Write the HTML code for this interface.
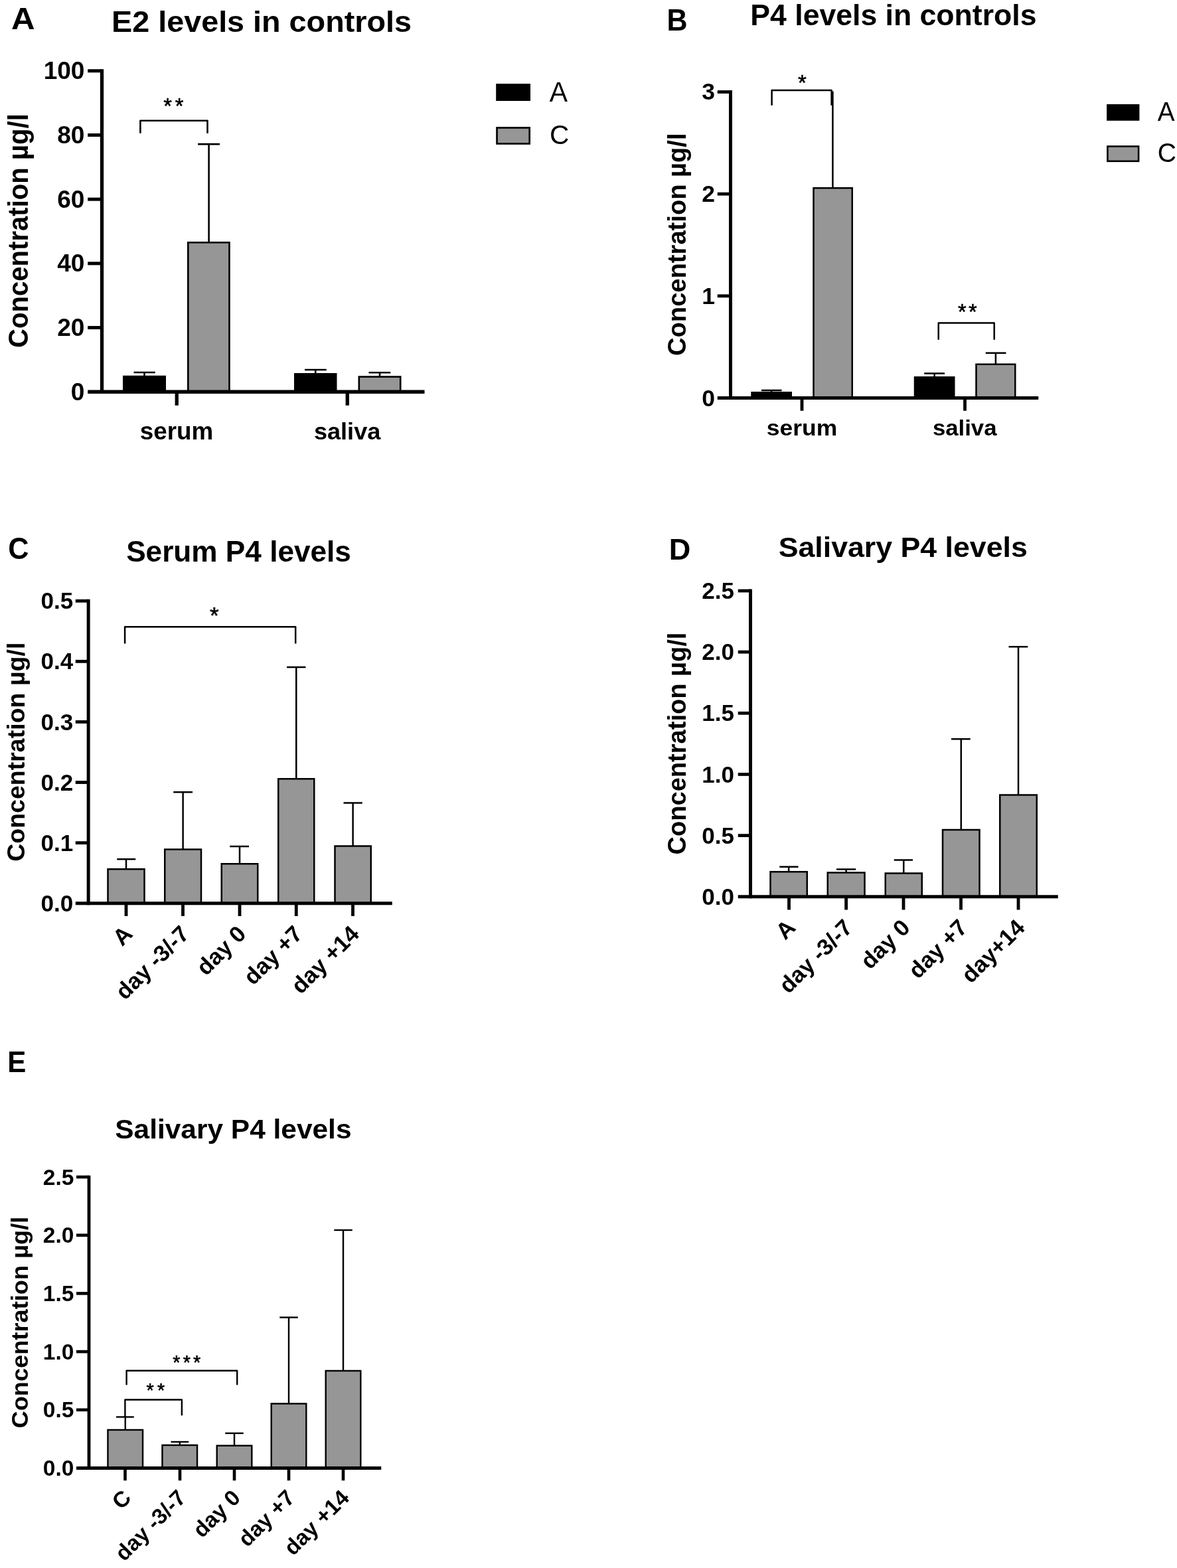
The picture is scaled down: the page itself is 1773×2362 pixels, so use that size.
<!DOCTYPE html>
<html lang="en">
<head>
<meta charset="utf-8">
<title>Hormone levels in controls and patients</title>
<style>
html,body{margin:0;padding:0;background:#fff;}
body{width:1773px;height:2362px;overflow:hidden;}
svg{display:block;}
svg text{font-family:"Liberation Sans",Arial,Helvetica,sans-serif;fill:#000;white-space:pre;}
</style>
</head>
<body>
<svg width="1773" height="2362" viewBox="0 0 1773 2362">
<rect x="0" y="0" width="1773" height="2362" fill="#fff"/>
<text transform="translate(16.92 43.85) scale(1.0721 1.0000)" font-size="45.94" font-weight="bold">A</text>
<text transform="translate(168.01 47.71) scale(1.0637 1.0000)" font-size="43.95" font-weight="bold">E2 levels in controls</text>
<g id="panel-A">
<line x1="217.5" y1="561" x2="217.5" y2="566.75" stroke="#000" stroke-width="2.6"/>
<line x1="201.5" y1="561" x2="233.75" y2="561" stroke="#000" stroke-width="2.6"/>
<rect x="185" y="565.75" width="65" height="24.5" fill="#000"/>
<line x1="314.6" y1="217.15" x2="314.6" y2="365" stroke="#000" stroke-width="2.6"/>
<line x1="298.1" y1="217.15" x2="331" y2="217.15" stroke="#000" stroke-width="2.6"/>
<rect x="283.3" y="365.3" width="62.15" height="224.65" fill="#969696" stroke="#000" stroke-width="2.6"/>
<line x1="475.25" y1="557" x2="475.25" y2="563" stroke="#000" stroke-width="2.6"/>
<line x1="459" y1="557" x2="491.75" y2="557" stroke="#000" stroke-width="2.6"/>
<rect x="443" y="562" width="64.5" height="28.25" fill="#000"/>
<line x1="572" y1="561.25" x2="572" y2="567.25" stroke="#000" stroke-width="2.6"/>
<line x1="555.5" y1="561.25" x2="588.25" y2="561.25" stroke="#000" stroke-width="2.6"/>
<rect x="540.8" y="567.55" width="62.4" height="22.4" fill="#969696" stroke="#000" stroke-width="2.6"/>
<line x1="153.5" y1="104.25" x2="153.5" y2="592.9" stroke="#000" stroke-width="5.3"/>
<line x1="132.2" y1="590.25" x2="639.5" y2="590.25" stroke="#000" stroke-width="5.3"/>
<text transform="translate(127.48 602.75) scale(1.0300 1)" font-size="36" font-weight="bold" text-anchor="end">0</text>
<line x1="132.2" y1="493.55" x2="153.5" y2="493.55" stroke="#000" stroke-width="5"/>
<text transform="translate(127.48 506.05) scale(1.0300 1)" font-size="36" font-weight="bold" text-anchor="end">20</text>
<line x1="132.2" y1="396.85" x2="153.5" y2="396.85" stroke="#000" stroke-width="5"/>
<text transform="translate(127.48 409.35) scale(1.0300 1)" font-size="36" font-weight="bold" text-anchor="end">40</text>
<line x1="132.2" y1="300.15" x2="153.5" y2="300.15" stroke="#000" stroke-width="5"/>
<text transform="translate(127.48 312.65) scale(1.0300 1)" font-size="36" font-weight="bold" text-anchor="end">60</text>
<line x1="132.2" y1="203.45" x2="153.5" y2="203.45" stroke="#000" stroke-width="5"/>
<text transform="translate(127.48 215.95) scale(1.0300 1)" font-size="36" font-weight="bold" text-anchor="end">80</text>
<line x1="132.2" y1="106.75" x2="153.5" y2="106.75" stroke="#000" stroke-width="5"/>
<text transform="translate(127.48 119.25) scale(1.0300 1)" font-size="36" font-weight="bold" text-anchor="end">100</text>
<line x1="266.25" y1="590.25" x2="266.25" y2="610.75" stroke="#000" stroke-width="5.3"/>
<line x1="523.25" y1="590.25" x2="523.25" y2="610.75" stroke="#000" stroke-width="5.3"/>
<path d="M211.4 200.8V181.7H312.5V200.8" fill="none" stroke="#000" stroke-width="2.6" stroke-linejoin="round"/>
<text x="246.16" y="171.22" font-size="32.57" font-weight="normal" stroke="#000" stroke-width="0.6" stroke-linejoin="round" letter-spacing="4.87">**</text>
</g>
<text transform="translate(210.76 661.89) scale(1.0180 1.0000)" font-size="36.18" font-weight="bold">serum</text>
<text transform="translate(472.88 661.79) scale(1.0179 1.0000)" font-size="35.51" font-weight="bold">saliva</text>
<text transform="translate(41.71 524.05) rotate(-90) scale(0.9645 1)" font-size="41.6" font-weight="bold">Concentration µg/l</text>
<rect x="747.2" y="126.1" width="51.8" height="25.9" fill="#000"/>
<rect x="748.55" y="192.45" width="49.1" height="24" fill="#969696" stroke="#000" stroke-width="2.7"/>
<text transform="translate(827.85 152.75) scale(0.9798 1.0000)" font-size="41.75" font-weight="normal">A</text>
<text transform="translate(827.92 217.45) scale(1.0123 1.0000)" font-size="40.14" font-weight="normal">C</text>
<text transform="translate(1004.45 45.5) scale(0.9426 1.0000)" font-size="45.65" font-weight="bold">B</text>
<text transform="translate(1130.35 37.91) scale(1.0084 1.0000)" font-size="44.22" font-weight="bold">P4 levels in controls</text>
<g id="panel-B">
<line x1="1162.12" y1="588" x2="1162.12" y2="591" stroke="#000" stroke-width="2.5"/>
<line x1="1147" y1="588" x2="1177.5" y2="588" stroke="#000" stroke-width="2.5"/>
<rect x="1131.25" y="590" width="61.75" height="9.5" fill="#000"/>
<line x1="1254.4" y1="137.5" x2="1254.4" y2="283" stroke="#000" stroke-width="2.5"/>
<rect x="1225.5" y="283.25" width="58.25" height="316" fill="#969696" stroke="#000" stroke-width="2.5"/>
<line x1="1407.62" y1="562.5" x2="1407.62" y2="568" stroke="#000" stroke-width="2.5"/>
<line x1="1392.25" y1="562.5" x2="1423" y2="562.5" stroke="#000" stroke-width="2.5"/>
<rect x="1376.75" y="567" width="61.75" height="32.5" fill="#000"/>
<line x1="1499.88" y1="531.75" x2="1499.88" y2="548.5" stroke="#000" stroke-width="2.5"/>
<line x1="1484.75" y1="531.75" x2="1515.5" y2="531.75" stroke="#000" stroke-width="2.5"/>
<rect x="1470.5" y="548.75" width="58.75" height="50.5" fill="#969696" stroke="#000" stroke-width="2.5"/>
<line x1="1100.5" y1="136.09" x2="1100.5" y2="602" stroke="#000" stroke-width="5"/>
<line x1="1080.75" y1="599.5" x2="1564.25" y2="599.5" stroke="#000" stroke-width="5"/>
<text transform="translate(1076.92 611.5) scale(1.0300 1)" font-size="34.5" font-weight="bold" text-anchor="end">0</text>
<line x1="1080.75" y1="445.83" x2="1100.5" y2="445.83" stroke="#000" stroke-width="4.8"/>
<text transform="translate(1076.92 457.83) scale(1.0300 1)" font-size="34.5" font-weight="bold" text-anchor="end">1</text>
<line x1="1080.75" y1="292.16" x2="1100.5" y2="292.16" stroke="#000" stroke-width="4.8"/>
<text transform="translate(1076.92 304.16) scale(1.0300 1)" font-size="34.5" font-weight="bold" text-anchor="end">2</text>
<line x1="1080.75" y1="138.49" x2="1100.5" y2="138.49" stroke="#000" stroke-width="4.8"/>
<text transform="translate(1076.92 150.49) scale(1.0300 1)" font-size="34.5" font-weight="bold" text-anchor="end">3</text>
<line x1="1208" y1="599.5" x2="1208" y2="618.75" stroke="#000" stroke-width="4.8"/>
<line x1="1453.5" y1="599.5" x2="1453.5" y2="618.75" stroke="#000" stroke-width="4.8"/>
<path d="M1162.6 158.8V136.1H1252.6V158.8" fill="none" stroke="#000" stroke-width="2.5" stroke-linejoin="round"/>
<text x="1201.92" y="136.32" font-size="32.86" font-weight="normal" stroke="#000" stroke-width="0.6" stroke-linejoin="round">*</text>
<path d="M1413.7 511.7V486.5H1497.7V511.7" fill="none" stroke="#000" stroke-width="2.5" stroke-linejoin="round"/>
<text x="1443.06" y="481.22" font-size="32.57" font-weight="normal" stroke="#000" stroke-width="0.6" stroke-linejoin="round" letter-spacing="3.27">**</text>
</g>
<text transform="translate(1154.86 655.81) scale(1.0536 1.0000)" font-size="33.64" font-weight="bold">serum</text>
<text transform="translate(1404.88 655.81) scale(1.0226 1.0000)" font-size="34.01" font-weight="bold">saliva</text>
<text transform="translate(1033.36 535.98) rotate(-90) scale(0.9773 1)" font-size="39.04" font-weight="bold">Concentration µg/l</text>
<rect x="1667.1" y="157" width="49.3" height="24.8" fill="#000"/>
<rect x="1668.4" y="220.5" width="46.7" height="22.3" fill="#969696" stroke="#000" stroke-width="2.6"/>
<text transform="translate(1743.66 182.15) scale(0.9352 1.0000)" font-size="41.31" font-weight="normal">A</text>
<text transform="translate(1743.8 244.05) scale(0.9762 1.0000)" font-size="40" font-weight="normal">C</text>
<text transform="translate(12.32 841.89) scale(0.9381 1.0000)" font-size="46.06" font-weight="bold">C</text>
<text transform="translate(190.17 845.8) scale(0.9780 1.0000)" font-size="45.17" font-weight="bold">Serum P4 levels</text>
<g id="panel-C">
<line x1="190" y1="1294.25" x2="190" y2="1309" stroke="#000" stroke-width="2.5"/>
<line x1="176.25" y1="1294.25" x2="204.25" y2="1294.25" stroke="#000" stroke-width="2.5"/>
<rect x="162.5" y="1309.25" width="55" height="51.25" fill="#969696" stroke="#000" stroke-width="2.5"/>
<line x1="275.62" y1="1193.25" x2="275.62" y2="1279.25" stroke="#000" stroke-width="2.5"/>
<line x1="261.25" y1="1193.25" x2="290" y2="1193.25" stroke="#000" stroke-width="2.5"/>
<rect x="248.25" y="1279.5" width="54.75" height="81" fill="#969696" stroke="#000" stroke-width="2.5"/>
<line x1="361" y1="1275" x2="361" y2="1301" stroke="#000" stroke-width="2.5"/>
<line x1="346.25" y1="1275" x2="375" y2="1275" stroke="#000" stroke-width="2.5"/>
<rect x="333.75" y="1301.25" width="54.5" height="59.25" fill="#969696" stroke="#000" stroke-width="2.5"/>
<line x1="446.25" y1="1005" x2="446.25" y2="1173" stroke="#000" stroke-width="2.5"/>
<line x1="432" y1="1005" x2="460.5" y2="1005" stroke="#000" stroke-width="2.5"/>
<rect x="419.25" y="1173.25" width="54" height="187.25" fill="#969696" stroke="#000" stroke-width="2.5"/>
<line x1="531.62" y1="1209.5" x2="531.62" y2="1274.25" stroke="#000" stroke-width="2.5"/>
<line x1="517.5" y1="1209.5" x2="545.75" y2="1209.5" stroke="#000" stroke-width="2.5"/>
<rect x="504.5" y="1274.5" width="54.25" height="86" fill="#969696" stroke="#000" stroke-width="2.5"/>
<line x1="133.15" y1="902.85" x2="133.15" y2="1363.25" stroke="#000" stroke-width="5"/>
<line x1="113.75" y1="1360.75" x2="590.75" y2="1360.75" stroke="#000" stroke-width="5"/>
<text transform="translate(110.15 1372.85)" font-size="35" font-weight="bold" text-anchor="end">0.0</text>
<line x1="113.75" y1="1269.65" x2="133.15" y2="1269.65" stroke="#000" stroke-width="4.8"/>
<text transform="translate(110.15 1281.75)" font-size="35" font-weight="bold" text-anchor="end">0.1</text>
<line x1="113.75" y1="1178.55" x2="133.15" y2="1178.55" stroke="#000" stroke-width="4.8"/>
<text transform="translate(110.15 1190.65)" font-size="35" font-weight="bold" text-anchor="end">0.2</text>
<line x1="113.75" y1="1087.45" x2="133.15" y2="1087.45" stroke="#000" stroke-width="4.8"/>
<text transform="translate(110.15 1099.55)" font-size="35" font-weight="bold" text-anchor="end">0.3</text>
<line x1="113.75" y1="996.35" x2="133.15" y2="996.35" stroke="#000" stroke-width="4.8"/>
<text transform="translate(110.15 1008.45)" font-size="35" font-weight="bold" text-anchor="end">0.4</text>
<line x1="113.75" y1="905.25" x2="133.15" y2="905.25" stroke="#000" stroke-width="4.8"/>
<text transform="translate(110.15 917.35)" font-size="35" font-weight="bold" text-anchor="end">0.5</text>
<line x1="190" y1="1360.75" x2="190" y2="1380" stroke="#000" stroke-width="4.8"/>
<text transform="translate(201.5 1409) rotate(-45)" font-size="34.4" font-weight="bold" text-anchor="end">A</text>
<line x1="275.5" y1="1360.75" x2="275.5" y2="1380" stroke="#000" stroke-width="4.8"/>
<text transform="translate(287 1409) rotate(-45)" font-size="34.4" font-weight="bold" text-anchor="end">day -3/-7</text>
<line x1="361" y1="1360.75" x2="361" y2="1380" stroke="#000" stroke-width="4.8"/>
<text transform="translate(372.5 1409) rotate(-45)" font-size="34.4" font-weight="bold" text-anchor="end">day 0</text>
<line x1="446.25" y1="1360.75" x2="446.25" y2="1380" stroke="#000" stroke-width="4.8"/>
<text transform="translate(457.75 1409) rotate(-45)" font-size="34.4" font-weight="bold" text-anchor="end">day +7</text>
<line x1="531.5" y1="1360.75" x2="531.5" y2="1380" stroke="#000" stroke-width="4.8"/>
<text transform="translate(543 1409) rotate(-45)" font-size="34.4" font-weight="bold" text-anchor="end">day +14</text>
<path d="M188.1 969.5V944.3H445.2V969.5" fill="none" stroke="#000" stroke-width="2.5" stroke-linejoin="round"/>
<text x="316.09" y="939.3" font-size="35.14" font-weight="normal" stroke="#000" stroke-width="0.6" stroke-linejoin="round">*</text>
</g>
<text transform="translate(37.11 1297.85) rotate(-90) scale(1.0230 1)" font-size="36.7" font-weight="bold">Concentration µg/l</text>
<text transform="translate(1007.82 842.75) scale(1.0208 1.0000)" font-size="44.2" font-weight="bold">D</text>
<text transform="translate(1172.66 838.77) scale(1.0445 1.0000)" font-size="42.78" font-weight="bold">Salivary P4 levels</text>
<g id="panel-D">
<line x1="1188.12" y1="1305.75" x2="1188.12" y2="1313" stroke="#000" stroke-width="2.5"/>
<line x1="1174.25" y1="1305.75" x2="1202.5" y2="1305.75" stroke="#000" stroke-width="2.5"/>
<rect x="1160.5" y="1313.25" width="55.25" height="37.25" fill="#969696" stroke="#000" stroke-width="2.5"/>
<line x1="1274.62" y1="1309.5" x2="1274.62" y2="1314.25" stroke="#000" stroke-width="2.5"/>
<line x1="1260" y1="1309.5" x2="1289.25" y2="1309.5" stroke="#000" stroke-width="2.5"/>
<rect x="1246.75" y="1314.5" width="55.75" height="36" fill="#969696" stroke="#000" stroke-width="2.5"/>
<line x1="1361.25" y1="1295.5" x2="1361.25" y2="1315.25" stroke="#000" stroke-width="2.5"/>
<line x1="1346.75" y1="1295.5" x2="1375" y2="1295.5" stroke="#000" stroke-width="2.5"/>
<rect x="1333.75" y="1315.5" width="55" height="35" fill="#969696" stroke="#000" stroke-width="2.5"/>
<line x1="1447.75" y1="1113.25" x2="1447.75" y2="1249.75" stroke="#000" stroke-width="2.5"/>
<line x1="1433" y1="1113.25" x2="1461.75" y2="1113.25" stroke="#000" stroke-width="2.5"/>
<rect x="1420" y="1250" width="55.5" height="100.5" fill="#969696" stroke="#000" stroke-width="2.5"/>
<line x1="1534" y1="974.25" x2="1534" y2="1197.25" stroke="#000" stroke-width="2.5"/>
<line x1="1519.5" y1="974.25" x2="1548.25" y2="974.25" stroke="#000" stroke-width="2.5"/>
<rect x="1506.25" y="1197.5" width="55.5" height="153" fill="#969696" stroke="#000" stroke-width="2.5"/>
<line x1="1130.5" y1="887.6" x2="1130.5" y2="1353.25" stroke="#000" stroke-width="5"/>
<line x1="1111.75" y1="1350.75" x2="1593.75" y2="1350.75" stroke="#000" stroke-width="5"/>
<text transform="translate(1105.9 1362.85)" font-size="35" font-weight="bold" text-anchor="end">0.0</text>
<line x1="1111.75" y1="1258.6" x2="1130.5" y2="1258.6" stroke="#000" stroke-width="4.8"/>
<text transform="translate(1105.9 1270.7)" font-size="35" font-weight="bold" text-anchor="end">0.5</text>
<line x1="1111.75" y1="1166.45" x2="1130.5" y2="1166.45" stroke="#000" stroke-width="4.8"/>
<text transform="translate(1105.9 1178.55)" font-size="35" font-weight="bold" text-anchor="end">1.0</text>
<line x1="1111.75" y1="1074.3" x2="1130.5" y2="1074.3" stroke="#000" stroke-width="4.8"/>
<text transform="translate(1105.9 1086.4)" font-size="35" font-weight="bold" text-anchor="end">1.5</text>
<line x1="1111.75" y1="982.15" x2="1130.5" y2="982.15" stroke="#000" stroke-width="4.8"/>
<text transform="translate(1105.9 994.25)" font-size="35" font-weight="bold" text-anchor="end">2.0</text>
<line x1="1111.75" y1="890" x2="1130.5" y2="890" stroke="#000" stroke-width="4.8"/>
<text transform="translate(1105.9 902.1)" font-size="35" font-weight="bold" text-anchor="end">2.5</text>
<line x1="1188.5" y1="1350.75" x2="1188.5" y2="1370.5" stroke="#000" stroke-width="4.8"/>
<text transform="translate(1200.2 1399.5) rotate(-45)" font-size="34.4" font-weight="bold" text-anchor="end">A</text>
<line x1="1274.6" y1="1350.75" x2="1274.6" y2="1370.5" stroke="#000" stroke-width="4.8"/>
<text transform="translate(1286.3 1399.5) rotate(-45)" font-size="34.4" font-weight="bold" text-anchor="end">day -3/-7</text>
<line x1="1361" y1="1350.75" x2="1361" y2="1370.5" stroke="#000" stroke-width="4.8"/>
<text transform="translate(1372.7 1399.5) rotate(-45)" font-size="34.4" font-weight="bold" text-anchor="end">day 0</text>
<line x1="1447.5" y1="1350.75" x2="1447.5" y2="1370.5" stroke="#000" stroke-width="4.8"/>
<text transform="translate(1459.2 1399.5) rotate(-45)" font-size="34.4" font-weight="bold" text-anchor="end">day +7</text>
<line x1="1534" y1="1350.75" x2="1534" y2="1370.5" stroke="#000" stroke-width="4.8"/>
<text transform="translate(1545.7 1399.5) rotate(-45)" font-size="34.4" font-weight="bold" text-anchor="end">day+14</text>
</g>
<text transform="translate(1032.82 1287.52) rotate(-90) scale(1.0013 1)" font-size="38.03" font-weight="bold">Concentration µg/l</text>
<text transform="translate(11.27 1615.25) scale(0.9668 1.0000)" font-size="43.48" font-weight="bold">E</text>
<text transform="translate(173.23 1714.52) scale(1.0517 1.0000)" font-size="40.37" font-weight="bold">Salivary P4 levels</text>
<g id="panel-E">
<line x1="188.75" y1="2134.5" x2="188.75" y2="2153.75" stroke="#000" stroke-width="2.4"/>
<line x1="175" y1="2134.5" x2="201.75" y2="2134.5" stroke="#000" stroke-width="2.4"/>
<rect x="162.45" y="2153.95" width="52.6" height="57.35" fill="#969696" stroke="#000" stroke-width="2.4"/>
<line x1="270.75" y1="2172" x2="270.75" y2="2176.75" stroke="#000" stroke-width="2.4"/>
<line x1="257.5" y1="2172" x2="284.25" y2="2172" stroke="#000" stroke-width="2.4"/>
<rect x="244.45" y="2176.95" width="52.6" height="34.35" fill="#969696" stroke="#000" stroke-width="2.4"/>
<line x1="353" y1="2159" x2="353" y2="2177.5" stroke="#000" stroke-width="2.4"/>
<line x1="339.25" y1="2159" x2="366.75" y2="2159" stroke="#000" stroke-width="2.4"/>
<rect x="326.7" y="2177.7" width="52.6" height="33.6" fill="#969696" stroke="#000" stroke-width="2.4"/>
<line x1="435" y1="1984.5" x2="435" y2="2114.25" stroke="#000" stroke-width="2.4"/>
<line x1="421.25" y1="1984.5" x2="448.75" y2="1984.5" stroke="#000" stroke-width="2.4"/>
<rect x="408.7" y="2114.45" width="52.6" height="96.85" fill="#969696" stroke="#000" stroke-width="2.4"/>
<line x1="517" y1="1853" x2="517" y2="2064.75" stroke="#000" stroke-width="2.4"/>
<line x1="503.25" y1="1853" x2="530.75" y2="1853" stroke="#000" stroke-width="2.4"/>
<rect x="490.7" y="2064.95" width="52.6" height="146.35" fill="#969696" stroke="#000" stroke-width="2.4"/>
<line x1="134" y1="1770.7" x2="134" y2="2213.9" stroke="#000" stroke-width="4.8"/>
<line x1="115" y1="2211.5" x2="574.25" y2="2211.5" stroke="#000" stroke-width="4.8"/>
<text transform="translate(111.34 2223.1)" font-size="33.5" font-weight="bold" text-anchor="end">0.0</text>
<line x1="115" y1="2123.8" x2="134" y2="2123.8" stroke="#000" stroke-width="4.6"/>
<text transform="translate(111.34 2135.4)" font-size="33.5" font-weight="bold" text-anchor="end">0.5</text>
<line x1="115" y1="2036.1" x2="134" y2="2036.1" stroke="#000" stroke-width="4.6"/>
<text transform="translate(111.34 2047.7)" font-size="33.5" font-weight="bold" text-anchor="end">1.0</text>
<line x1="115" y1="1948.4" x2="134" y2="1948.4" stroke="#000" stroke-width="4.6"/>
<text transform="translate(111.34 1960)" font-size="33.5" font-weight="bold" text-anchor="end">1.5</text>
<line x1="115" y1="1860.7" x2="134" y2="1860.7" stroke="#000" stroke-width="4.6"/>
<text transform="translate(111.34 1872.3)" font-size="33.5" font-weight="bold" text-anchor="end">2.0</text>
<line x1="115" y1="1773" x2="134" y2="1773" stroke="#000" stroke-width="4.6"/>
<text transform="translate(111.34 1784.6)" font-size="33.5" font-weight="bold" text-anchor="end">2.5</text>
<line x1="188.5" y1="2211.5" x2="188.5" y2="2230.25" stroke="#000" stroke-width="4.6"/>
<text transform="translate(199.5 2258.25) rotate(-45)" font-size="33.1" font-weight="bold" text-anchor="end">C</text>
<line x1="271" y1="2211.5" x2="271" y2="2230.25" stroke="#000" stroke-width="4.6"/>
<text transform="translate(282 2258.25) rotate(-45)" font-size="33.1" font-weight="bold" text-anchor="end">day -3/-7</text>
<line x1="353" y1="2211.5" x2="353" y2="2230.25" stroke="#000" stroke-width="4.6"/>
<text transform="translate(364 2258.25) rotate(-45)" font-size="33.1" font-weight="bold" text-anchor="end">day 0</text>
<line x1="435" y1="2211.5" x2="435" y2="2230.25" stroke="#000" stroke-width="4.6"/>
<text transform="translate(446 2258.25) rotate(-45)" font-size="33.1" font-weight="bold" text-anchor="end">day +7</text>
<line x1="517" y1="2211.5" x2="517" y2="2230.25" stroke="#000" stroke-width="4.6"/>
<text transform="translate(528 2258.25) rotate(-45)" font-size="33.1" font-weight="bold" text-anchor="end">day +14</text>
<path d="M190.6 2086.3V2064.7H357.2V2086.3" fill="none" stroke="#000" stroke-width="2.4" stroke-linejoin="round"/>
<text x="260.22" y="2061.76" font-size="28.86" font-weight="normal" stroke="#000" stroke-width="0.6" stroke-linejoin="round" letter-spacing="4.2">***</text>
<path d="M188.4 2134.5V2108.45H273.9V2132.3" fill="none" stroke="#000" stroke-width="2.4" stroke-linejoin="round"/>
<text x="220.52" y="2103.76" font-size="28.86" font-weight="normal" stroke="#000" stroke-width="0.6" stroke-linejoin="round" letter-spacing="5.13">**</text>
</g>
<text transform="translate(41.51 2151.5) rotate(-90) scale(1.0201 1)" font-size="35.53" font-weight="bold">Concentration µg/l</text>
</svg>
</body>
</html>
